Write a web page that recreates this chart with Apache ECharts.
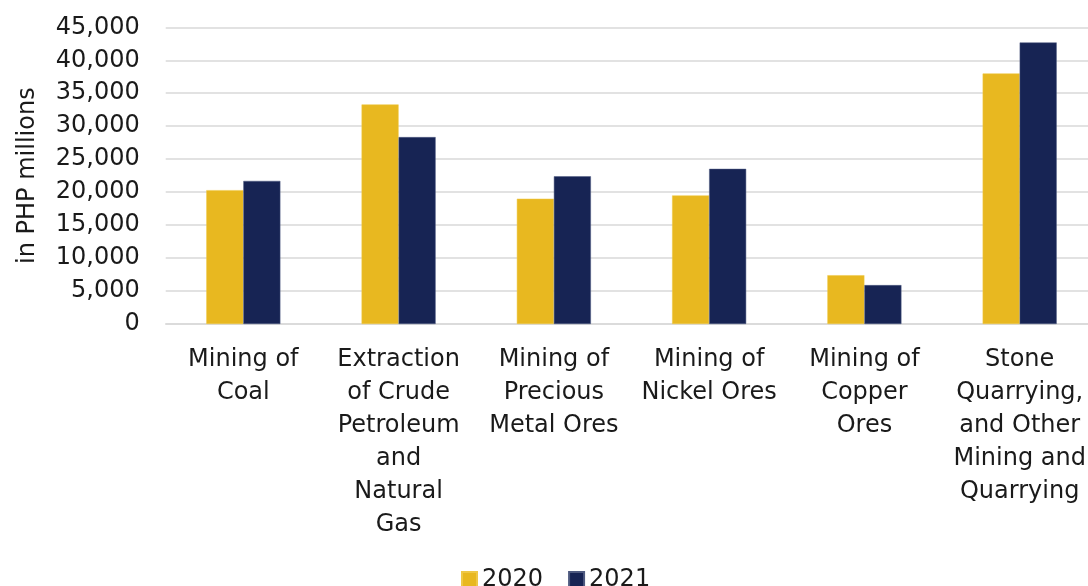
<!DOCTYPE html>
<html>
<head>
<meta charset="utf-8">
<script src="https://cdn.jsdelivr.net/npm/echarts@6/dist/echarts.min.js"></script>
<style>html,body{margin:0;padding:0;background:#fff}#c{width:1088px;height:586px}</style>
</head>
<body>
<div id="c"></div>
<script>
const categories = [
  "Mining of\nCoal",
  "Extraction\nof Crude\nPetroleum\nand\nNatural\nGas",
  "Mining of\nPrecious\nMetal Ores",
  "Mining of\nNickel Ores",
  "Mining of\nCopper\nOres",
  "Stone\nQuarrying,\nand Other\nMining and\nQuarrying"
];
const seriesNames = ["2020", "2021"];
const values2020 = [20300, 33300, 19000, 19500, 7400, 38000];
const values2021 = [21700, 28350, 22400, 23530, 5900, 42700];
const yTicks = { min: 0, max: 45000, interval: 5000 };
const yAxisTitle = "in PHP millions";

const FONT = "DejaVu Sans";
const chart = echarts.init(document.getElementById('c'), null, { renderer: 'canvas' });
chart.setOption({
  animation: false,
  textStyle: { fontFamily: FONT },
  grid: { left: 165.7, right: -9.3, top: 27.3, bottom: 262, containLabel: false, outerBoundsMode: 'none' },
  legend: {
    left: 456, top: 563,
    itemWidth: 15, itemHeight: 16, itemGap: 25,
    icon: 'rect',
    textStyle: { fontSize: 24, color: '#1a1a1a', fontFamily: FONT },
    data: seriesNames
  },
  xAxis: {
    type: 'category',
    data: categories,
    axisLine: { show: true, lineStyle: { color: '#d9d9d9', width: 1.5 } },
    axisTick: { show: false },
    axisLabel: { color: '#1a1a1a', fontSize: 24, lineHeight: 33, margin: 19, interval: 0, fontFamily: FONT }
  },
  yAxis: {
    type: 'value',
    min: yTicks.min, max: yTicks.max, interval: yTicks.interval,
    name: yAxisTitle,
    nameLocation: 'middle',
    nameRotate: 90,
    nameGap: 126,
    nameTextStyle: { fontSize: 24, color: '#1a1a1a', fontFamily: FONT },
    axisLine: { show: false },
    axisTick: { show: false },
    splitLine: { lineStyle: { color: '#d9d9d9', width: 1.5 } },
    axisLabel: {
      color: '#1a1a1a', fontSize: 24, margin: 26, fontFamily: FONT,
      formatter: v => v.toLocaleString('en-US')
    }
  },
  series: [
    { name: seriesNames[0], type: 'bar', data: values2020, barGap: '0%', barCategoryGap: '52.3%',
      itemStyle: { color: '#E8B820', borderColor: '#EFC846', borderWidth: 0.5 } },
    { name: seriesNames[1], type: 'bar', data: values2021,
      itemStyle: { color: '#172454', borderColor: '#4E5A80', borderWidth: 0.5 } }
  ]
});
</script>
</body>
</html>
